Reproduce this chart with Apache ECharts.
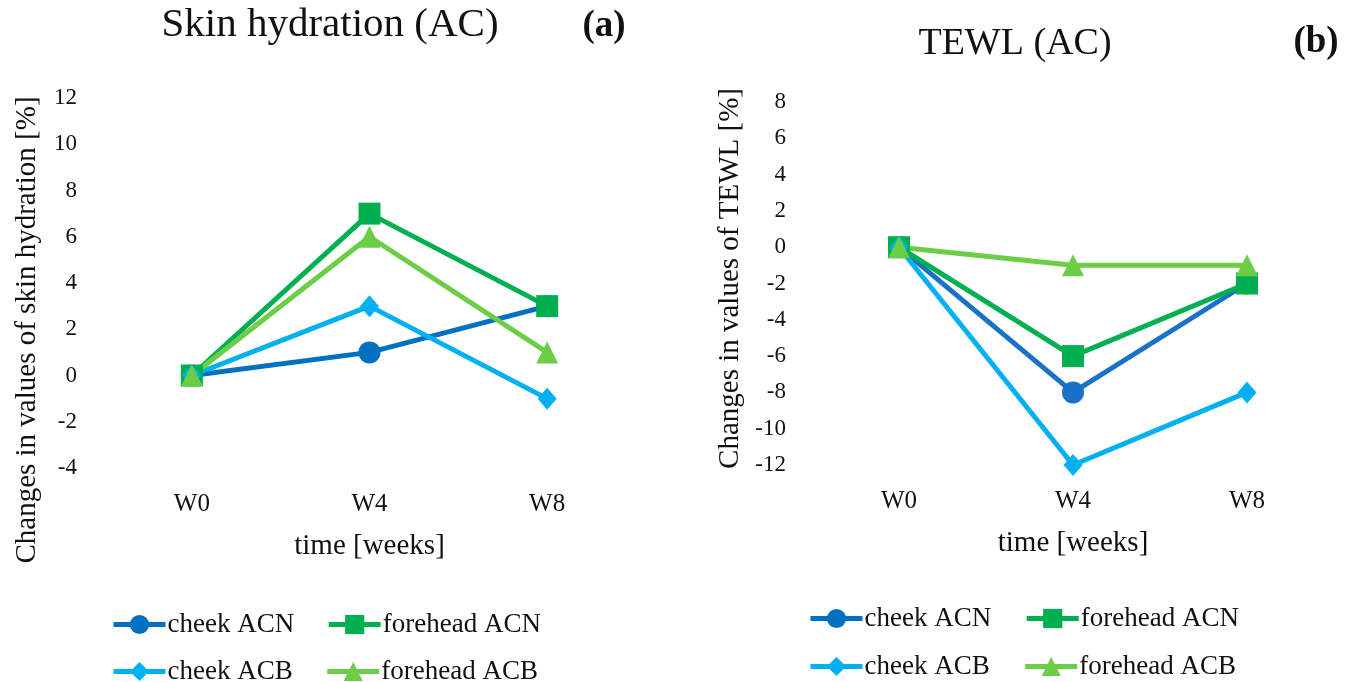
<!DOCTYPE html>
<html>
<head>
<meta charset="utf-8">
<title>Skin hydration and TEWL (AC)</title>
<script src="https://cdn.jsdelivr.net/npm/echarts@6/dist/echarts.min.js"></script>
<style>
  html, body { margin: 0; padding: 0; background: #fff; }
  #main { width: 1352px; height: 682px; }
</style>
</head>
<body>
<div id="main"></div>
<script>
// categories
var weeks = ['W0', 'W4', 'W8'];

// (a) skin hydration, changes in %
var hydCheekACN = [0, 1, 3];
var hydForeheadACN = [0, 7, 3];
var hydCheekACB = [0, 3, -1];
var hydForeheadACB = [0, 6, 1];

// (b) TEWL, changes in %
var tewlCheekACN = [0, -8, -2];
var tewlForeheadACN = [0, -6, -2];
var tewlCheekACB = [0, -12, -8];
var tewlForeheadACB = [0, -1, -1];

// y axis ranges: min, max, step
var hydAxis = [-4, 12, 2];
var tewlAxis = [-12, 8, 2];

var FONT = "'Palatino Linotype', Palatino, 'Liberation Serif', serif";
var txt = '#111';

function mkSeries(name, data, color, symbol, idx) {
    return {
        name: name,
        type: 'line',
        xAxisIndex: idx,
        yAxisIndex: idx,
        data: data,
        symbol: symbol,
        symbolSize: symbol == 'diamond' ? [19, 22] : 22,
        lineStyle: { width: 5, color: color },
        itemStyle: { color: color },
        emphasis: { disabled: true },
        animation: false
    };
}

function mkX(idx) {
    return {
        type: 'category',
        gridIndex: idx,
        data: weeks,
        boundaryGap: true,
        axisLine: { show: false },
        axisTick: { show: false },
        axisLabel: { color: txt, fontFamily: FONT, fontSize: 25, margin: 24 },
        name: 'time [weeks]',
        nameLocation: 'middle',
        nameGap: 64,
        nameTextStyle: { color: txt, fontFamily: FONT, fontSize: 29 }
    };
}

function mkY(idx, rng, name, gap, pad) {
    return {
        type: 'value',
        gridIndex: idx,
        min: rng[0],
        max: rng[1],
        interval: rng[2],
        axisLine: { show: false },
        axisTick: { show: false },
        splitLine: { show: false },
        axisLabel: { color: txt, fontFamily: FONT, fontSize: 23, margin: 26 },
        name: name,
        nameLocation: 'middle',
        nameRotate: 90,
        nameGap: gap,
        nameTextStyle: { color: txt, fontFamily: FONT, fontSize: 29, padding: pad }
    };
}

function mkLegend(names, left, top, gap) {
    return {
        data: names,
        left: left,
        top: top,
        orient: 'horizontal',
        itemWidth: 52,
        itemHeight: 24,
        itemGap: gap,
        selectedMode: false,
        lineStyle: { width: 5 },
        textStyle: { color: txt, fontFamily: FONT, fontSize: 27, padding: [0, 0, 0, -3] }
    };
}

var myChart = echarts.init(document.getElementById('main'));

var option = {
    backgroundColor: '#fff',
    title: [
        { text: 'Skin hydration (AC)', left: 325, top: 0, textAlign: 'center',
          textStyle: { color: txt, fontFamily: FONT, fontSize: 41, fontWeight: 'normal' } },
        { text: '(a)', left: 599, top: 3, textAlign: 'center',
          textStyle: { color: txt, fontFamily: FONT, fontSize: 37, fontWeight: 'bold' } },
        { text: 'TEWL (AC)', left: 1010, top: 20, textAlign: 'center',
          textStyle: { color: txt, fontFamily: FONT, fontSize: 38, fontWeight: 'normal' } },
        { text: '(b)', left: 1311, top: 19, textAlign: 'center',
          textStyle: { color: txt, fontFamily: FONT, fontSize: 37, fontWeight: 'bold' } }
    ],
    legend: [
        mkLegend(['cheek ACN', 'forehead ACN'], 106, 606, 32),
        mkLegend(['cheek ACB', 'forehead ACB'], 106, 653, 32),
        mkLegend(['cheek ACN', 'forehead ACN'], 803, 600, 33),
        mkLegend(['cheek ACB', 'forehead ACB'], 803, 648, 33)
    ],
    grid: [
        { left: 103, top: 98, width: 533, height: 370 },
        { left: 812, top: 102, width: 522, height: 363 }
    ],
    xAxis: [mkX(0), mkX(1)],
    yAxis: [
        mkY(0, hydAxis, 'Changes in values of skin hydration [%]', 61, [0, 94, 0, 0]),
        mkY(1, tewlAxis, 'Changes in values of TEWL [%]', 67, [0, 0, 0, 10])
    ],
    series: [
        mkSeries('cheek ACN', hydCheekACN, '#0070C0', 'circle', 0),
        mkSeries('forehead ACN', hydForeheadACN, '#00B050', 'rect', 0),
        mkSeries('cheek ACB', hydCheekACB, '#00B0F0', 'diamond', 0),
        mkSeries('forehead ACB', hydForeheadACB, '#6CCD46', 'triangle', 0),
        mkSeries('cheek ACN', tewlCheekACN, '#1A72C8', 'circle', 1),
        mkSeries('forehead ACN', tewlForeheadACN, '#00B050', 'rect', 1),
        mkSeries('cheek ACB', tewlCheekACB, '#00B0F0', 'diamond', 1),
        mkSeries('forehead ACB', tewlForeheadACB, '#6CCD46', 'triangle', 1)
    ]
};

myChart.setOption(option);
</script>
</body>
</html>
